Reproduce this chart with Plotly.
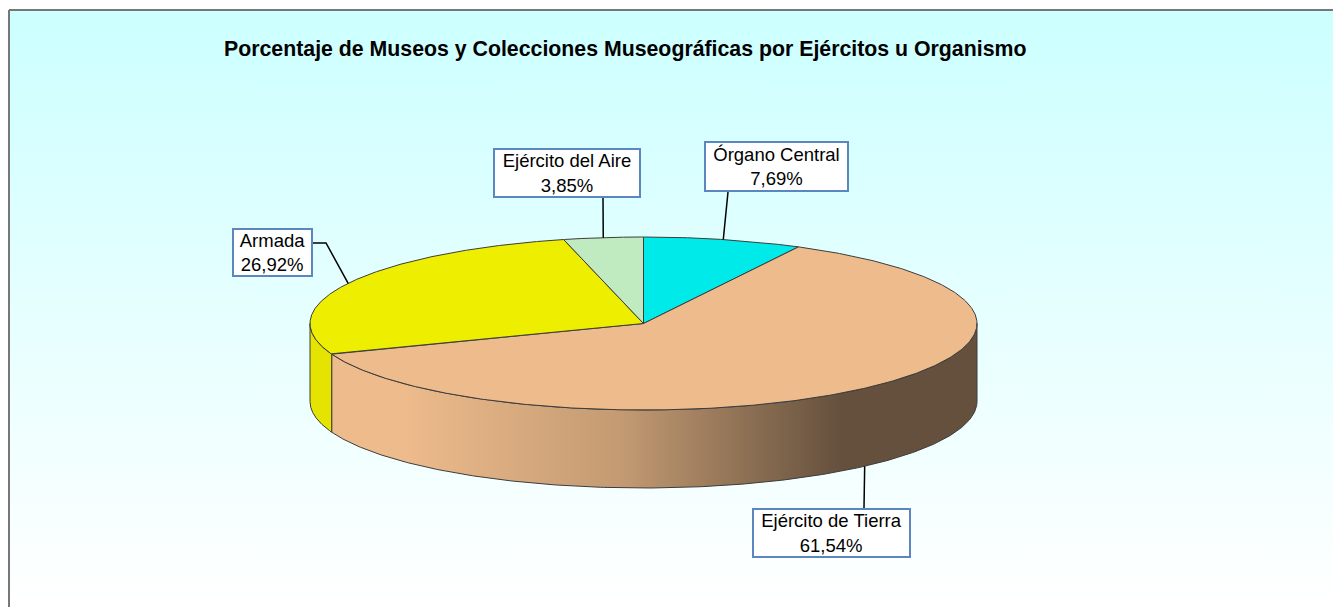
import numpy as np
import plotly.graph_objects as go

# ---------------- data ----------------
categories = ["Órgano Central", "Ejército de Tierra", "Armada", "Ejército del Aire"]
values = [7.69, 61.54, 26.92, 3.85]
title_text = "Porcentaje de Museos y Colecciones Museográficas por Ejércitos u Organismo"

# ---------------- styles / layout ----------------
top_colors = ["#00EAEA", "#EDBB8C", "#EEEE00", "#C0EAC0"]
side_colors = ["#00CFCF", "#EDBB8C", "#E4E400", "#A9D9A9"]
side_gradient = {1: [[0, "#EDBB8C"], [0.115, "#EDBB8C"], [0.45, "#C39A72"],
                     [0.79, "#64503D"], [1, "#64503D"]]}
edge_color = "#3C3C3C"
FONT = "Arial, 'Liberation Sans', sans-serif"

W, H = 1333, 607
CX, CY, RX, RY, DEPTH = 643.5, 323.5, 333.5, 86.5, 78.0

# label boxes: (center x, center y, width, height)
label_boxes = [(776.5, 166.5, 145, 51), (831.5, 533, 159, 50),
               (272.5, 252.5, 81, 49), (567, 173, 148, 50)]
# leader line points on box side (one or more points)
leader_starts = [[(728, 192)], [(864, 508)], [(313, 243), (326, 243)], [(603, 198)]]


def pt(theta_deg, dy=0.0):
    t = np.radians(theta_deg)
    return CX + RX * np.sin(t), CY - RY * np.cos(t) + dy


total = float(sum(values))
bounds = np.concatenate([[0.0], np.cumsum(values) / total * 360.0])

fig = go.Figure()

# background with vertical gradient
fig.add_trace(go.Scatter(
    x=[9, W + 20, W + 20, 9, 9], y=[10, 10, H + 20, H + 20, 10],
    mode="none", fill="toself",
    fillgradient=dict(type="vertical", colorscale=[[0, "#FFFFFF"], [1, "#CCFFFF"]],
                      start=H, stop=10),
    hoverinfo="skip", showlegend=False))

# side walls (front half visible: 90..270 deg)
for i in range(len(values)):
    a0, a1 = bounds[i], bounds[i + 1]
    lo, hi = max(a0, 90.0), min(a1, 270.0)
    if lo >= hi:
        continue
    th = np.linspace(lo, hi, 300)
    xt, yt = pt(th)
    xb, yb = pt(th[::-1], DEPTH)
    xs = np.concatenate([xt, xb, xt[:1]])
    ys = np.concatenate([yt, yb, yt[:1]])
    kw = {}
    if i in side_gradient:
        kw["fillgradient"] = dict(type="horizontal", colorscale=side_gradient[i])
    else:
        kw["fillcolor"] = side_colors[i]
    fig.add_trace(go.Scatter(x=xs, y=ys, mode="lines", fill="toself",
                             line=dict(color=edge_color, width=1),
                             hoverinfo="skip", showlegend=False, **kw))

# top faces
for i in range(len(values)):
    a0, a1 = bounds[i], bounds[i + 1]
    th = np.linspace(a0, a1, 400)
    xa, ya = pt(th)
    xs = np.concatenate([[CX], xa, [CX]])
    ys = np.concatenate([[CY], ya, [CY]])
    fig.add_trace(go.Scatter(x=xs, y=ys, mode="lines", fill="toself",
                             fillcolor=top_colors[i],
                             line=dict(color=edge_color, width=1),
                             name=categories[i], hoverinfo="name",
                             showlegend=False))

# leader lines and labels
for i in range(len(values)):
    mid = (bounds[i] + bounds[i + 1]) / 2.0
    front = 90.0 < mid < 270.0
    ex, ey = pt(mid, DEPTH if front else 0.0)
    pts = leader_starts[i] + [(float(ex), float(ey))]
    fig.add_trace(go.Scatter(x=[p[0] for p in pts], y=[p[1] for p in pts],
                             mode="lines", line=dict(color="black", width=1.5),
                             hoverinfo="skip", showlegend=False))
    bx, by, bw, bh = label_boxes[i]
    pct = f"{values[i]:.2f}".replace(".", ",") + "%"
    fig.add_annotation(x=bx, y=by, xref="x", yref="y", xanchor="center", yanchor="middle",
                       text=f"{categories[i]}<br>{pct}", showarrow=False,
                       width=bw - 4, height=bh - 4, borderwidth=2, borderpad=0,
                       bordercolor="#5B86C0", bgcolor="white",
                       font=dict(family=FONT, size=18.5, color="black"))

# title
fig.add_annotation(x=624.5, y=49, xref="x", yref="y", xanchor="center", yanchor="middle",
                   text=f"<b>{title_text}</b>", showarrow=False,
                   font=dict(family=FONT, size=21.3, color="black"))

# chart border (only top and left edges are inside the window)
fig.add_shape(type="line", xref="x", yref="y", x0=9, y0=10, x1=W + 20, y1=10,
              line=dict(color="#777777", width=2), layer="above")
fig.add_shape(type="line", xref="x", yref="y", x0=9, y0=10, x1=9, y1=H + 20,
              line=dict(color="#777777", width=2), layer="above")

fig.update_layout(
    width=W, height=H, autosize=False,
    margin=dict(l=0, r=0, t=0, b=0),
    paper_bgcolor="white", plot_bgcolor="white",
    xaxis=dict(range=[0, W], visible=False, fixedrange=True),
    yaxis=dict(range=[H, 0], visible=False, fixedrange=True),
    showlegend=False,
)

fig.write_html(
    "out.html",
    config={"displayModeBar": False},
    post_script="document.body.style.margin='0px';document.body.style.overflow='hidden';",
)
